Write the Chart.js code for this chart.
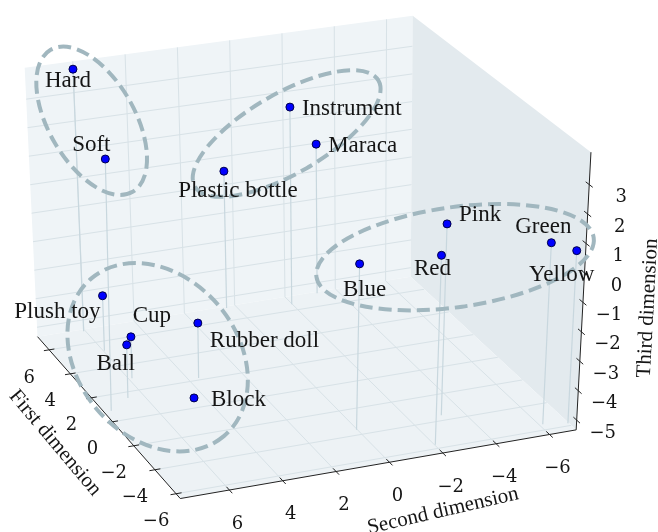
<!DOCTYPE html>
<html>
<head>
<meta charset="utf-8">
<script src="https://cdn.jsdelivr.net/npm/chart.js@4.4.1/dist/chart.umd.min.js"></script>
<style>
  html, body { margin: 0; padding: 0; background: #fff; }
  #wrap { width: 658px; height: 532px; }
</style>
</head>
<body>
<div id="wrap"><canvas id="mdsChart"></canvas></div>
<script>
// object names and their three MDS coordinates
const names = ["Hard", "Soft", "Plastic bottle", "Instrument", "Maraca", "Plush toy", "Cup", "Ball",
  "Rubber doll", "Block", "Blue", "Red", "Pink", "Green", "Yellow"];
const firstDim = [6.95, 0.81, 6.97, 6.48, 7.0, 5.28, 2.94, 1.55, 2.15, 0.62, -3.6, -5.69, -3.59, -5.56, -5.81];
const secondDim = [6.07, 7.56, 0.38, -1.98, -3.23, 5.96, 5.87, 6.61, 3.61, 4.44, 0.03, -2.03, -3.19, -6.13, -6.96];
const thirdDim = [3.89, 3.26, -0.46, 1.7, 0.01, -3.41, -3.9, -3.51, -3.43, -5.27, 0.3, 1.06, 1.2, 0.85, 0.55];

const firstTicks = [-6, -4, -2, 0, 2, 4, 6];
const secondTicks = [-6, -4, -2, 0, 2, 4, 6];
const thirdTicks = [-5, -4, -3, -2, -1, 0, 1, 2, 3];

// box limits and where its eight corners land on screen (u: first, v: second, w: third)
const view = {
  x: [-6.4, 7.1],
  y: [7.84, -7.0],
  z: [-5.33, 4.1],
  corners: {
    "000": [178, 503], "100": [33, 338], "010": [580, 433], "110": [412, 277],
    "001": [178, 212], "101": [20, 64], "011": [595, 150], "111": [414, 11]
  }
};

// label placement next to each point: [align, dx, dy]
const labelPlacement = {
  "Hard": ["center", -5, 12], "Soft": ["center", -14, -14], "Plastic bottle": ["center", 14, 20],
  "Instrument": ["left", 12, 2], "Maraca": ["left", 12, 2], "Pink": ["left", 12, -9],
  "Green": ["center", -8, -16], "Yellow": ["center", -15, 24], "Red": ["center", -9, 14],
  "Blue": ["center", 5, 26], "Plush toy": ["right", -2, 16], "Cup": ["center", 21, -21],
  "Ball": ["center", -11, 19], "Rubber doll": ["left", 12, 18], "Block": ["left", 17, 2]
};

// dashed cluster outlines: centre, radii, tilt in degrees
const clusterRings = [
  { cx: 88, cy: 118, rx: 82, ry: 43, rot: 60 },
  { cx: 286, cy: 131, rx: 106, ry: 40, rot: -30 },
  { cx: 155, cy: 359, rx: 103, ry: 80, rot: 50 },
  { cx: 457, cy: 257, rx: 140, ry: 50, rot: -8 }
];

function project(x, y, z) {
  const u = (x - view.x[0]) / (view.x[1] - view.x[0]);
  const v = (y - view.y[0]) / (view.y[1] - view.y[0]);
  const w = (z - view.z[0]) / (view.z[1] - view.z[0]);
  let px = 0, py = 0;
  for (const key in view.corners) {
    const f = (key[0] === "1" ? u : 1 - u) * (key[1] === "1" ? v : 1 - v) * (key[2] === "1" ? w : 1 - w);
    px += f * view.corners[key][0];
    py += f * view.corners[key][1];
  }
  return { x: px, y: py };
}

const pointSet = {
  label: "Objects",
  data: names.map((_, i) => project(firstDim[i], secondDim[i], thirdDim[i])),
  pointRadius: 4,
  pointBackgroundColor: "#0000ff",
  pointBorderColor: "#00004a",
  pointBorderWidth: 1
};

const stemSets = names.map((name, i) => ({
  label: name,
  data: [project(firstDim[i], secondDim[i], thirdDim[i]), project(firstDim[i], secondDim[i], view.z[0])],
  showLine: true,
  borderColor: "#c8d7de",
  borderWidth: 1.2,
  pointRadius: 0
}));

function toPx(chart, p) {
  return [chart.scales.x.getPixelForValue(p.x), chart.scales.y.getPixelForValue(p.y)];
}

function fillPoly(ctx, chart, pts, color) {
  ctx.beginPath();
  pts.forEach((p, i) => {
    const [x, y] = toPx(chart, p);
    if (i === 0) ctx.moveTo(x, y); else ctx.lineTo(x, y);
  });
  ctx.closePath();
  ctx.fillStyle = color;
  ctx.fill();
}

function line(ctx, chart, a, b) {
  const [x1, y1] = toPx(chart, a);
  const [x2, y2] = toPx(chart, b);
  ctx.beginPath();
  ctx.moveTo(x1, y1);
  ctx.lineTo(x2, y2);
  ctx.stroke();
}

const minus = (n) => (n < 0 ? "\u2212" + Math.abs(n) : String(n));

const frame3d = {
  id: "frame3d",
  beforeDatasetsDraw(chart) {
    const ctx = chart.ctx;
    const [x0, x1] = view.x, [y0, y1] = view.y, [z0, z1] = view.z;
    ctx.save();
    // panes
    fillPoly(ctx, chart, [project(x1, y0, z0), project(x1, y1, z0), project(x1, y1, z1), project(x1, y0, z1)], "#eff4f7");
    fillPoly(ctx, chart, [project(x0, y1, z0), project(x1, y1, z0), project(x1, y1, z1), project(x0, y1, z1)], "#e3eaee");
    fillPoly(ctx, chart, [project(x0, y0, z0), project(x1, y0, z0), project(x1, y1, z0), project(x0, y1, z0)], "#edf2f5");

    // grid on the back pane and the floor
    ctx.strokeStyle = "#d8e2e7";
    ctx.lineWidth = 1;
    secondTicks.forEach((s) => {
      line(ctx, chart, project(x1, s, z0), project(x1, s, z1));
      line(ctx, chart, project(x0, s, z0), project(x1, s, z0));
    });
    thirdTicks.forEach((t) => line(ctx, chart, project(x1, y0, t), project(x1, y1, t)));
    firstTicks.forEach((f) => line(ctx, chart, project(f, y0, z0), project(f, y1, z0)));

    // axis lines and ticks
    ctx.strokeStyle = "#222";
    ctx.lineWidth = 1;
    line(ctx, chart, project(x0, y0, z0), project(x1, y0, z0));
    line(ctx, chart, project(x0, y0, z0), project(x0, y1, z0));
    line(ctx, chart, project(x0, y1, z0), project(x0, y1, z1));
    const dv = 0.014 * (y1 - y0), du = 0.02 * (x1 - x0);
    firstTicks.forEach((f) => line(ctx, chart, project(f, y0 - dv, z0), project(f, y0 + dv, z0)));
    secondTicks.forEach((s) => line(ctx, chart, project(x0 - du, s, z0), project(x0 + du, s, z0)));
    thirdTicks.forEach((t) => line(ctx, chart, project(x0 - du, y1, t), project(x0 + du, y1, t)));
    ctx.restore();
  },
  afterDatasetsDraw(chart) {
    const ctx = chart.ctx;
    const [x0] = view.x, [y0, y1] = view.y, [z0] = view.z;
    ctx.save();

    // cluster outlines
    ctx.strokeStyle = "#a1b7bf";
    ctx.lineWidth = 4;
    ctx.setLineDash([13, 6]);
    clusterRings.forEach((r) => {
      const cx = chart.scales.x.getPixelForValue(r.cx);
      const cy = chart.scales.y.getPixelForValue(r.cy);
      ctx.beginPath();
      ctx.ellipse(cx, cy, r.rx, r.ry, r.rot * Math.PI / 180, 0, Math.PI * 2);
      ctx.stroke();
    });
    ctx.setLineDash([]);

    // point labels
    ctx.fillStyle = "#151515";
    ctx.font = "23px 'Liberation Serif'";
    ctx.textBaseline = "middle";
    names.forEach((name, i) => {
      const [align, dx, dy] = labelPlacement[name];
      const [px, py] = toPx(chart, project(firstDim[i], secondDim[i], thirdDim[i]));
      ctx.textAlign = align;
      ctx.fillText(name, px + dx, py + dy);
    });

    // tick labels
    ctx.font = "18px 'DejaVu Serif'";
    ctx.textAlign = "center";
    firstTicks.forEach((f) => {
      const [px, py] = toPx(chart, project(f, y0, z0));
      ctx.fillText(minus(f), px - 20, py + 28);
    });
    secondTicks.forEach((s) => {
      const [px, py] = toPx(chart, project(x0, s, z0));
      ctx.fillText(minus(s), px + 8, py + 34);
    });
    thirdTicks.forEach((t) => {
      const [px, py] = toPx(chart, project(x0, y1, t));
      ctx.fillText(minus(t), px + (t < 0 ? 26 : 32), py + 13);
    });

    // axis titles
    ctx.font = "21px 'Liberation Serif'";
    const title = (text, x, y, deg) => {
      ctx.save();
      ctx.translate(x, y);
      ctx.rotate(deg * Math.PI / 180);
      ctx.fillText(text, 0, 0);
      ctx.restore();
    };
    title("First dimension", 55, 443, 50);
    title("Second dimension", 443, 511, -13);
    title("Third dimension", 648, 308, -87);
    ctx.restore();
  }
};

new Chart(document.getElementById("mdsChart"), {
  type: "scatter",
  data: { datasets: [pointSet, ...stemSets] },
  options: {
    responsive: true,
    maintainAspectRatio: false,
    animation: false,
    events: [],
    layout: { padding: 0 },
    scales: {
      x: { type: "linear", min: 0, max: 658, display: false },
      y: { type: "linear", min: 0, max: 532, reverse: true, display: false }
    },
    plugins: {
      legend: { display: false },
      tooltip: { enabled: false }
    }
  },
  plugins: [frame3d]
});
</script>
</body>
</html>
